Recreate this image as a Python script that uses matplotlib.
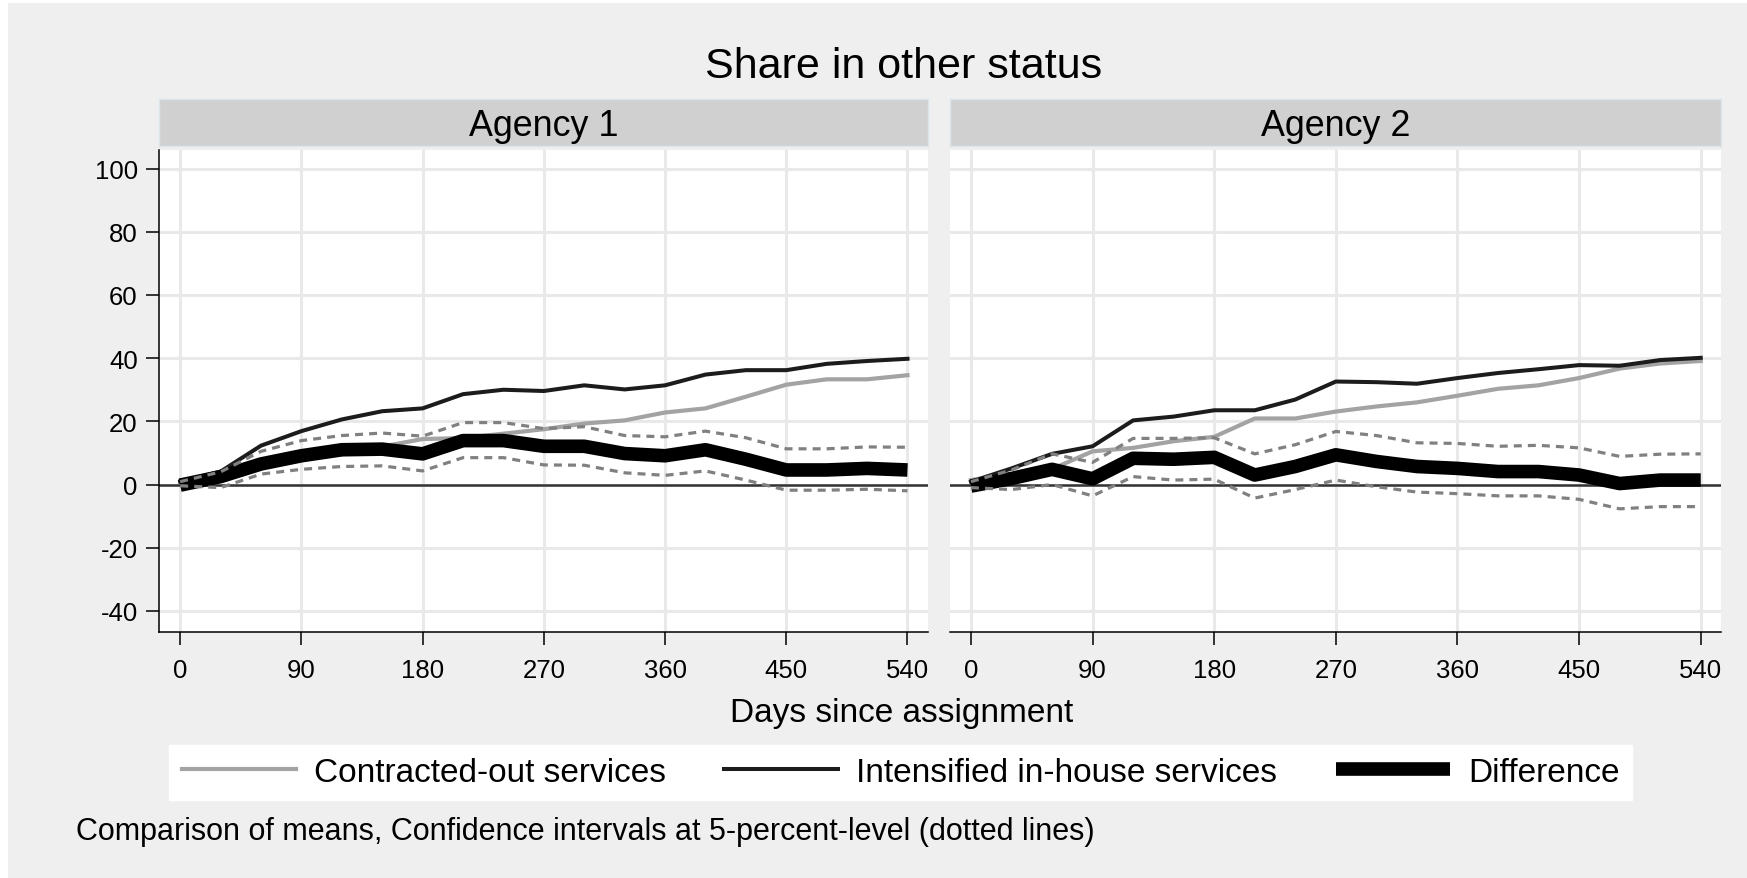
import matplotlib
matplotlib.use("Agg")
import matplotlib.pyplot as plt
from matplotlib.patches import Rectangle
from matplotlib.lines import Line2D

plt.rcParams["font.family"] = ["Liberation Sans", "DejaVu Sans"]
plt.rcParams["axes.unicode_minus"] = False

# ---- data -----------------------------------------------------------------
days = [0, 30, 60, 90, 120, 150, 180, 210, 240, 270, 300, 330, 360, 390, 420,
        450, 480, 510, 540]
x_ticks = [0, 90, 180, 270, 360, 450, 540]
y_ticks = [-40, -20, 0, 20, 40, 60, 80, 100]
panel_titles = ["Agency 1", "Agency 2"]
series_names = ["Contracted-out services", "Intensified in-house services",
                "Difference"]

a1_contracted = [1.1, 1.6, 5.8, 7.8, 9.6, 12.0, 14.4, 14.7, 16.1, 17.5, 19.3,
                 20.3, 22.8, 24.1, 27.8, 31.6, 33.3, 33.3, 34.6]
a1_intensified = [0.9, 4.1, 12.3, 16.9, 20.6, 23.2, 24.1, 28.6, 30.0, 29.6,
                  31.4, 30.1, 31.4, 34.8, 36.2, 36.2, 38.2, 39.1, 39.8]
a1_difference = [-0.2, 2.5, 6.5, 9.1, 11.0, 11.2, 9.7, 13.9, 13.9, 12.1, 12.1,
                 9.8, 9.1, 11.0, 8.0, 4.6, 4.6, 5.1, 4.6]
a1_ci_upper = [0.9, 4.0, 10.5, 13.9, 15.5, 16.3, 15.3, 19.6, 19.6, 17.7, 18.3,
               15.5, 15.1, 16.9, 14.8, 11.3, 11.3, 11.9, 11.8]
a1_ci_lower = [-0.4, -1.0, 3.3, 4.8, 5.7, 5.9, 4.3, 8.5, 8.5, 6.2, 6.1, 3.7,
               2.9, 4.3, 1.4, -1.8, -1.8, -1.5, -2.0]

a2_contracted = [1.4, 3.2, 4.9, 10.5, 11.6, 13.7, 15.1, 20.9, 20.9, 23.1, 24.7,
                 26.0, 28.1, 30.3, 31.4, 33.7, 36.7, 38.3, 39.1]
a2_intensified = [0.9, 5.1, 9.7, 12.1, 20.3, 21.5, 23.5, 23.5, 26.9, 32.6,
                  32.4, 31.9, 33.7, 35.3, 36.5, 37.8, 37.6, 39.4, 40.1]
a2_difference = [-0.5, 1.9, 4.8, 1.8, 8.3, 8.0, 8.6, 3.0, 5.7, 9.4, 7.3, 5.7,
                 5.1, 4.1, 4.1, 3.0, 0.3, 1.4, 1.4]
a2_ci_upper = [0.9, 4.6, 9.7, 7.0, 14.6, 14.6, 14.8, 9.7, 12.6, 16.8, 15.5,
               13.2, 13.0, 12.1, 12.4, 11.6, 8.9, 9.6, 9.7]
a2_ci_lower = [-1.0, -1.6, 0.0, -3.6, 2.5, 1.4, 1.7, -4.3, -1.6, 1.4, -0.7,
               -2.4, -2.9, -3.6, -3.6, -4.7, -7.7, -7.0, -7.0]

panels = [
    (a1_contracted, a1_intensified, a1_difference, a1_ci_upper, a1_ci_lower),
    (a2_contracted, a2_intensified, a2_difference, a2_ci_upper, a2_ci_lower),
]

# ---- styling --------------------------------------------------------------
W, H = 1747, 879
BG = "#efefef"
STRIP = "#d0d0d0"
GRID = "#e9e9e9"
C_CONTR = "#a3a3a3"
C_INT = "#1c1c1c"
C_DIFF = "#000000"
C_CI = "#808080"
LW_CONTR, LW_INT, LW_DIFF, LW_CI = 3.0, 2.9, 9.8, 2.3

fig = plt.figure(figsize=(W / 100, H / 100), dpi=100, facecolor="white")
fig.add_artist(Rectangle((8 / W, 0), 1, 1 - 4 / H, transform=fig.transFigure,
                         facecolor=BG, edgecolor="none", zorder=-10))


def fx(px):
    return px / W


def fy(py):
    return 1 - py / H


plot_top, plot_bot = 151.0, 632.7
strip_top, strip_bot = 100.0, 147.3
panel_x = [(159.3, 927.7), (950.0, 1721.0)]

for i, ((x0, x1), data) in enumerate(zip(panel_x, panels)):
    contr, inten, diff, ci_u, ci_l = data
    ax = fig.add_axes([fx(x0), fy(plot_bot), fx(x1 - x0),
                       (plot_bot - plot_top) / H])
    ax.set_facecolor("white")
    ax.set_xlim(-15.5, 555)
    ax.set_ylim(-46.6, 105.9)
    ax.set_xticks(x_ticks)
    ax.set_yticks(y_ticks)
    ax.grid(True, color=GRID, linewidth=2.2, zorder=0)
    ax.set_axisbelow(True)
    for s in ["top", "right"]:
        ax.spines[s].set_visible(False)
    ax.spines["bottom"].set_linewidth(1.1)
    ax.spines["left"].set_linewidth(1.1)
    ax.tick_params(axis="both", length=9.5, width=1.1, labelsize=18.5,
                   color="black", labelcolor="black")
    ax.tick_params(axis="x", pad=9.5)
    ax.tick_params(axis="y", pad=6)
    if i == 1:
        ax.spines["left"].set_visible(False)
        ax.tick_params(axis="y", left=False, labelleft=False)

    ax.axhline(0, color="#333333", linewidth=1.8, zorder=2)
    ax.plot(days, contr, color=C_CONTR, linewidth=LW_CONTR, zorder=3,
            solid_joinstyle="round")
    ax.plot(days, inten, color=C_INT, linewidth=LW_INT, zorder=4,
            solid_joinstyle="round")
    ax.plot(days, diff, color=C_DIFF, linewidth=LW_DIFF, zorder=5,
            solid_capstyle="butt", solid_joinstyle="round")
    for ci in (ci_u, ci_l):
        ax.plot(days, ci, color=C_CI, linewidth=LW_CI, zorder=6,
                dashes=(2.5, 1.9), dash_capstyle="butt")

    # panel header
    sax = fig.add_axes([fx(x0), fy(strip_bot), fx(x1 - x0),
                        (strip_bot - strip_top) / H])
    sax.set_facecolor(STRIP)
    sax.set_xticks([])
    sax.set_yticks([])
    for s in sax.spines.values():
        s.set_edgecolor("#dce6ea")
        s.set_linewidth(1.0)
    sax.text(0.5, 0.43, panel_titles[i], ha="center", va="center",
             fontsize=25.8, transform=sax.transAxes)

fig.text(fx(904), fy(67.5), "Share in other status", ha="center",
         va="center", fontsize=31)
fig.text(fx(902), fy(714), "Days since assignment", ha="center",
         va="center", fontsize=24)

handles = [
    Line2D([], [], color=C_CONTR, linewidth=LW_CONTR),
    Line2D([], [], color=C_INT, linewidth=LW_INT),
    Line2D([], [], color=C_DIFF, linewidth=LW_DIFF, solid_capstyle="butt"),
]
leg = fig.legend(handles, series_names, loc="center",
                 bbox_to_anchor=(fx(900.5), fy(773.5)), ncol=3, fontsize=24,
                 handlelength=3.42, handletextpad=0.54, columnspacing=1.76,
                 borderpad=0.37, frameon=True, fancybox=False)
leg.get_frame().set_facecolor("white")
leg.get_frame().set_edgecolor("white")
leg.get_frame().set_alpha(1)

fig.text(fx(76), fy(832),
         "Comparison of means, Confidence intervals at 5-percent-level "
         "(dotted lines)", ha="left", va="center", fontsize=22)

fig.savefig("out.png", dpi=100, facecolor=fig.get_facecolor())
